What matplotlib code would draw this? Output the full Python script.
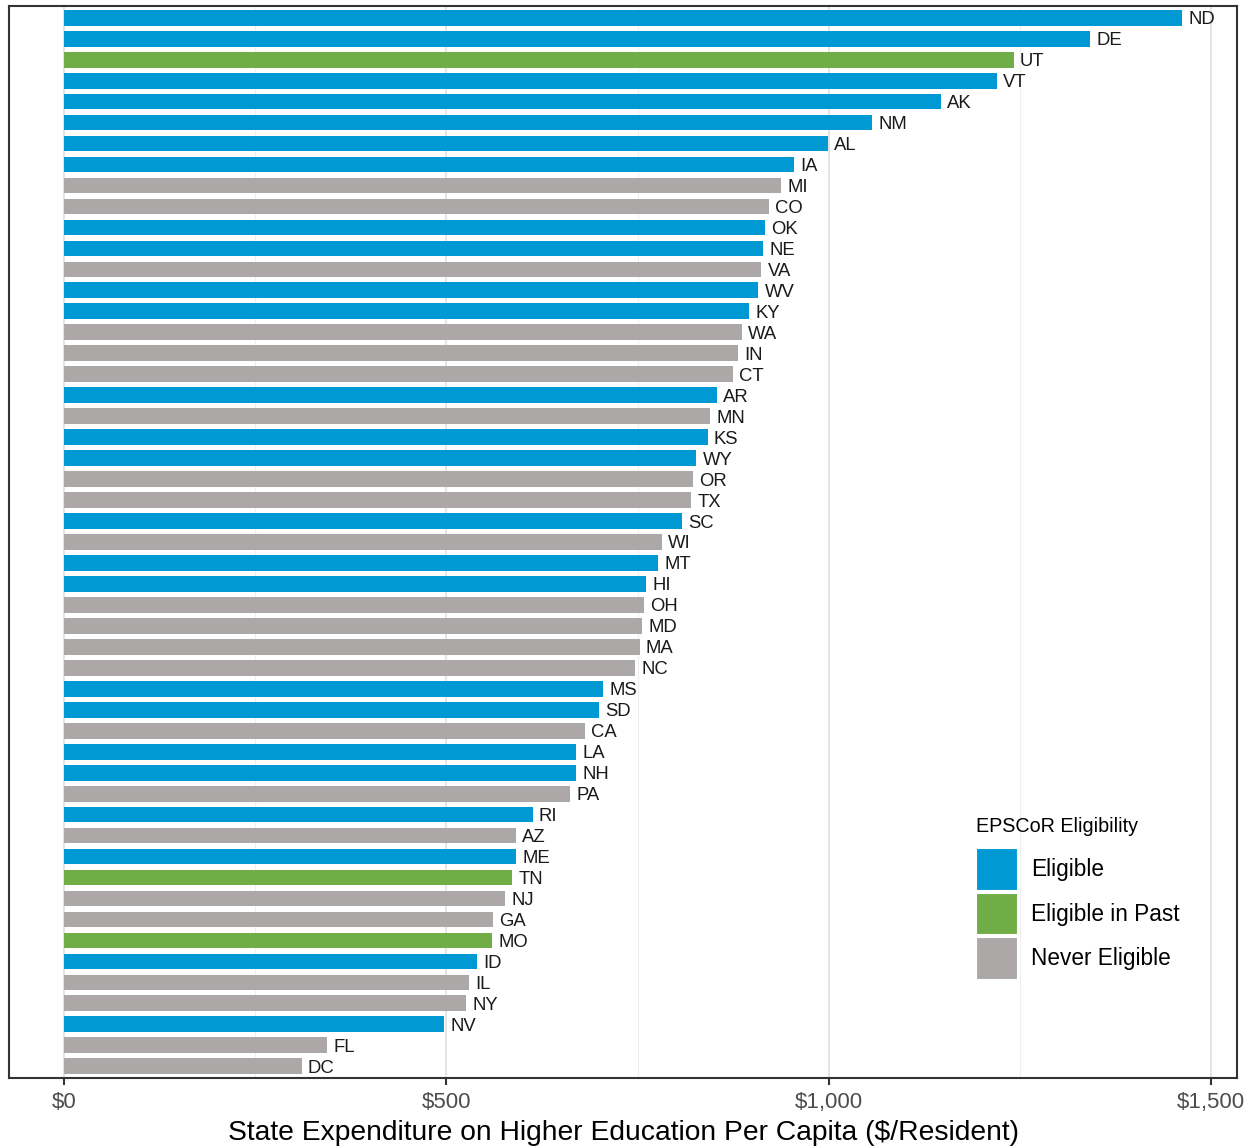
import matplotlib
matplotlib.use("Agg")
import matplotlib.pyplot as plt
from matplotlib.patches import Patch
from matplotlib.ticker import FuncFormatter, MultipleLocator

plt.rcParams['font.family'] = ['Liberation Sans', 'DejaVu Sans']

states = ["ND", "DE", "UT", "VT", "AK", "NM", "AL", "IA", "MI", "CO", "OK", "NE", "VA", "WV", "KY",
          "WA", "IN", "CT", "AR", "MN", "KS", "WY", "OR", "TX", "SC", "WI", "MT", "HI", "OH", "MD",
          "MA", "NC", "MS", "SD", "CA", "LA", "NH", "PA", "RI", "AZ", "ME", "TN", "NJ", "GA", "MO",
          "ID", "IL", "NY", "NV", "FL", "DC"]
values = [1462, 1342, 1242, 1220, 1147, 1057, 999, 955, 938, 922, 917, 914, 912, 908, 896,
          887, 881, 875, 854, 845, 842, 827, 823, 820, 808, 782, 777, 761, 759, 756,
          753, 747, 705, 700, 681, 670, 670, 662, 613, 591, 591, 586, 577, 561, 560,
          540, 530, 526, 497, 344, 311]
eligibility = ["E", "E", "P", "E", "E", "E", "E", "E", "N", "N", "E", "E", "N", "E", "E",
               "N", "N", "N", "E", "N", "E", "E", "N", "N", "E", "N", "E", "E", "N", "N",
               "N", "N", "E", "E", "N", "E", "E", "N", "E", "N", "E", "P", "N", "N", "P",
               "E", "N", "N", "E", "N", "N"]
category_names = {"E": "Eligible", "P": "Eligible in Past", "N": "Never Eligible"}
colors = {"E": "#0099D4", "P": "#70AD47", "N": "#ABA8A7"}

fig = plt.figure(figsize=(12.55, 11.47), dpi=100)
ax = fig.add_axes([9/1255, 1 - 1078/1147, (1237 - 9)/1255, (1078 - 6)/1147])

n = len(states)
ypos = list(range(n))
ax.barh(ypos, values, height=0.75, color=[colors[c] for c in eligibility], zorder=3)
for y, v, s in zip(ypos, values, states):
    ax.text(v + 8, y, s, va='center_baseline', ha='left', fontsize=13.3, color='#1a1a1a', zorder=4)

ax.set_ylim(n - 1 + 0.56, -0.56)
ax.set_xlim(-72, 1534)
ax.set_yticks([])
ax.xaxis.set_major_locator(MultipleLocator(500))
ax.xaxis.set_minor_locator(MultipleLocator(250))
ax.xaxis.set_major_formatter(FuncFormatter(lambda x, p: f"${x:,.0f}"))
ax.grid(axis='x', which='major', color='#E3E3E3', linewidth=1.3, zorder=0)
ax.grid(axis='x', which='minor', color='#EFEFEF', linewidth=0.8, zorder=0)
ax.set_axisbelow(True)
ax.tick_params(axis='x', which='major', length=5, width=1.5, color='#333333',
               labelsize=16, labelcolor='#4d4d4d', pad=5)
ax.tick_params(axis='x', which='minor', length=0)
for sp in ax.spines.values():
    sp.set_color('#333333')
    sp.set_linewidth(1.5)
ax.set_xlabel("State Expenditure on Higher Education Per Capita ($/Resident)", fontsize=20.3,
              color='#000000', labelpad=5)

handles = [Patch(facecolor=colors[k], edgecolor='white', linewidth=0.8, label=category_names[k])
           for k in ["E", "P", "N"]]
leg = ax.legend(handles=handles, title="EPSCoR Eligibility", loc='upper left',
                bbox_to_anchor=(0.7877, 0.2435), frameon=False, fontsize=16.3, title_fontsize=14.2,
                handlelength=1.8, handleheight=2.45, labelspacing=0.12, handletextpad=0.6,
                borderpad=0, borderaxespad=0, alignment='left')
leg._legend_box.sep = 9

fig.savefig("out.png", dpi=100)
